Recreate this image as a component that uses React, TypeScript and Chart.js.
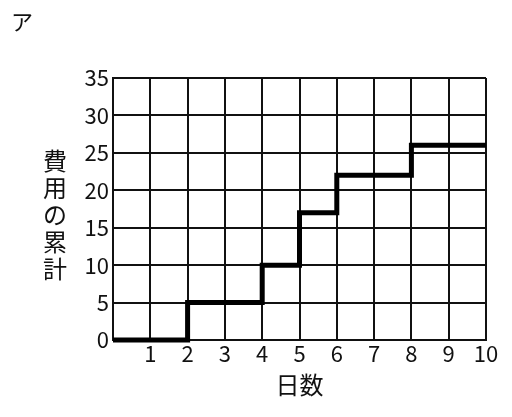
import React, { useEffect, useRef } from "react";
import { Chart, registerables } from "chart.js";

Chart.register(...registerables);

const days = [0, 2, 4, 5, 6, 8, 10];
const cost = [0, 5, 10, 17, 22, 26, 26];
const xTicks = [1, 2, 3, 4, 5, 6, 7, 8, 9, 10];
const yTitle = ["費", "用", "の", "累", "計"];
const xTitle = "日数";
const panelLabel = "ア";

const FONT = "'Noto Sans CJK JP', 'Noto Sans', sans-serif";

const textPlugin = {
  id: "texts",
  afterDraw(chart: any) {
    const { ctx, chartArea } = chart;
    ctx.save();
    ctx.fillStyle = "#111";
    ctx.textAlign = "center";
    ctx.textBaseline = "middle";
    ctx.font = `24px ${FONT}`;
    const cy = (chartArea.top + chartArea.bottom) / 2 + 6;
    const step = 27;
    yTitle.forEach((ch, i) => {
      ctx.fillText(ch, 55, cy + (i - (yTitle.length - 1) / 2) * step);
    });
    ctx.fillText(xTitle, (chartArea.left + chartArea.right) / 2, chartArea.bottom + 45);
    ctx.font = `22px ${FONT}`;
    ctx.fillText(panelLabel, 22, 22);
    ctx.restore();
  },
};

export default function App() {
  const ref = useRef<HTMLCanvasElement>(null);
  useEffect(() => {
    const chart = new Chart(ref.current!, {
      type: "line",
      data: {
        datasets: [
          {
            data: days.map((d, i) => ({ x: d, y: cost[i] })),
            borderColor: "#000",
            borderWidth: 5,
            pointRadius: 0,
            stepped: "before",
            fill: false,
            clip: false,
          } as any,
        ],
      },
      options: {
        animation: false,
        responsive: false,
        devicePixelRatio: 1,
        layout: { padding: { top: 78, right: 26, bottom: 0, left: 0 } },
        plugins: { legend: { display: false }, tooltip: { enabled: false } },
        scales: {
          x: {
            type: "linear",
            min: 0,
            max: 10,
            afterBuildTicks: (scale: any) => {
              scale.ticks = [0, ...xTicks].map((v) => ({ value: v }));
            },
            afterFit: (scale: any) => {
              scale.height = 77;
            },
            ticks: {
              callback: (v: any) => (v === 0 ? "" : String(v)),
              color: "#111",
              font: { family: FONT, size: 22 },
              padding: 0,
              maxRotation: 0,
            },
            grid: { color: "#111", lineWidth: 2, drawTicks: false },
            border: { color: "#111", width: 2 },
          },
          y: {
            type: "linear",
            min: 0,
            max: 35,
            ticks: {
              stepSize: 5,
              color: "#111",
              font: { family: FONT, size: 22 },
              padding: 4,
            },
            afterFit: (scale: any) => {
              scale.width = 113;
            },
            grid: { color: "#111", lineWidth: 2, drawTicks: false },
            border: { color: "#111", width: 2 },
          },
        },
      },
      plugins: [textPlugin],
    });
    return () => chart.destroy();
  }, []);
  return (
    <div style={{ position: "fixed", left: 0, top: 0, width: 512, height: 417, background: "#fff" }}>
      <canvas ref={ref} width={512} height={417} style={{ width: 512, height: 417 }} />
    </div>
  );
}
